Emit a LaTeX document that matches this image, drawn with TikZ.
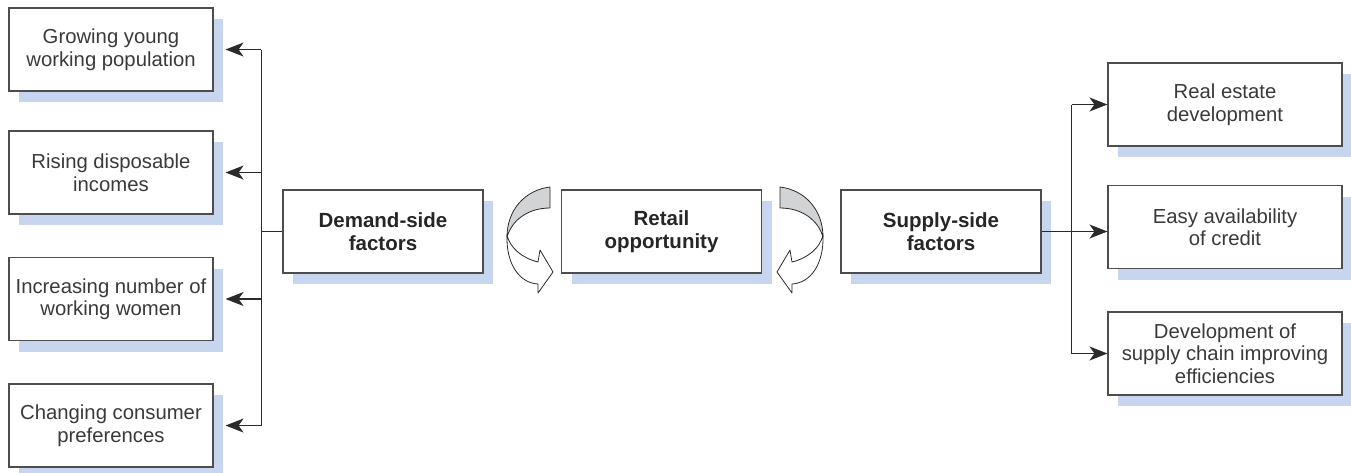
\documentclass[tikz,border=0pt]{standalone}
\usepackage{fontspec}
\setmainfont{Liberation Sans}
\usetikzlibrary{shadows,arrows.meta}

\definecolor{shadowblue}{HTML}{C8D5EE}
\definecolor{boxline}{HTML}{4D4D4D}
\definecolor{txt}{HTML}{3A3A3A}
\definecolor{bandgray}{HTML}{D2D3D5}
\definecolor{wire}{HTML}{2A2A2A}

\tikzset{
  factor/.style={draw=boxline, line width=1.1pt, fill=white,
    minimum width=204pt, minimum height=83pt, inner sep=0pt,
    align=center, text=txt, font=\fontsize{20.3}{22.5}\selectfont,
    drop shadow={shadow xshift=10pt, shadow yshift=-11pt, opacity=1, fill=shadowblue}},
  driver/.style={factor, minimum width=234pt},
  core/.style={factor, minimum width=200pt, text=black!85,
    font=\fontsize{20.5}{23}\selectfont\bfseries},
  conn/.style={draw=wire, line width=1.3pt},
  arr/.style={conn, -{Stealth[length=18pt,width=14pt,inset=5pt]}},
  cyclearrow/.pic={
    % white shaft ending in an open arrowhead
    \draw[draw=wire, line width=0.8pt, fill=white, line join=round]
      (-43,48) .. controls (-44,78) and (-30,96) .. (-12,97)
      -- (-12,106) -- (3,85) -- (-10,63) -- (-12,75)
      .. controls (-28,71) and (-40,61) .. (-43,48) -- cycle;
    % shaded band at the top of the turn
    \draw[draw=wire, line width=0.8pt, fill=bandgray, line join=round]
      (0,0) .. controls (-25,3) and (-43,23) .. (-43,50)
      .. controls (-38,33) and (-22,21) .. (0,21) -- cycle;
  }
}

\begin{document}
\begin{tikzpicture}[x=1pt,y=-1pt]
  \useasboundingbox (0,0) rectangle (1351,472);

  % demand-side drivers
  \node[factor] (l1) at (111,49.5)  {Growing young\\working population};
  \node[factor] (l2) at (111,172.5) {Rising disposable\\incomes};
  \node[factor] (l3) at (111,299)   {Increasing number of\\working women};
  \node[factor] (l4) at (111,425.5) {Changing consumer\\preferences};

  % central chain
  \node[core] (dem) at (383,231.5)   {Demand-side\\factors};
  \node[core] (ret) at (661.5,231.5) {Retail\\opportunity};
  \node[core] (sup) at (941,231.5)   {Supply-side\\factors};

  % supply-side drivers
  \node[driver] (r1) at (1225,104.5) {Real estate\\development};
  \node[driver] (r2) at (1225,227)   {Easy availability\\of credit};
  \node[driver] (r3) at (1225,353.5) {Development of\\supply chain improving\\efficiencies};

  % left tree
  \draw[conn] (dem.west) -- ++(-21,0) coordinate (jl);
  \draw[conn] (jl |- l1.east) -- (jl |- l4.east);
  \foreach \b in {l1,l2,l3,l4}
    \draw[arr, shorten >=12pt] (jl |- \b.east) -- (\b.east);

  % right tree
  \draw[conn] (sup.east) -- ++(30,0) coordinate (jr);
  \draw[conn] (jr |- r1.west) -- (jr |- r3.west);
  \draw[arr] (jr |- r1.west) -- (r1.west);
  \draw[arr] (jr) -- (jr -| r2.west);
  \draw[arr] (jr |- r3.west) -- (r3.west);

  % curved arrows feeding the retail opportunity
  \pic at (550,187) {cyclearrow};
  \pic[xscale=-1] at (780,187) {cyclearrow};
\end{tikzpicture}
\end{document}
